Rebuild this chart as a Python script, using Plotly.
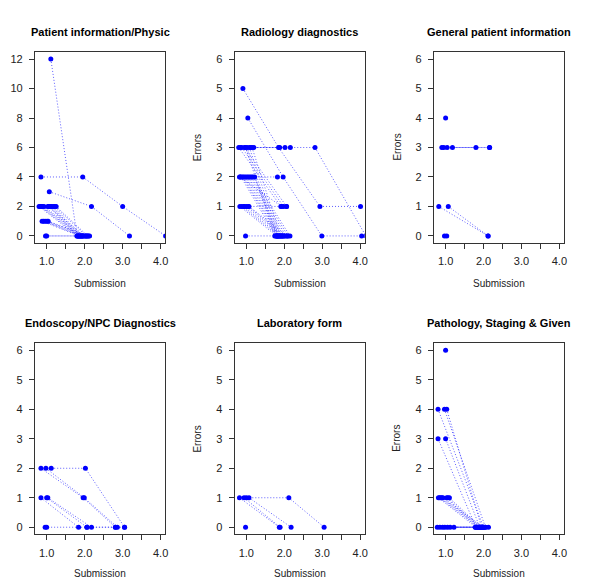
import plotly.graph_objects as go

# ---------------- data: one trajectory per subject (jittered submission, errors) -------------
titles = ["Patient information/Physic", "Radiology diagnostics", "General patient information",
          "Endoscopy/NPC Diagnostics", "Laboratory form", "Pathology, Staging & Given"]

p1_x = [[0.85, 1.95, 3.00, 4.13], [1.07, 2.18, 3.18], [1.11, 1.80],
        [0.80, 1.80], [0.83, 1.84], [0.86, 1.88], [0.89, 1.92], [0.93, 1.96], [1.03, 2.00],
        [1.06, 1.82], [1.09, 1.86], [1.13, 1.90], [1.17, 1.94], [1.21, 2.04], [1.25, 2.08],
        [0.88, 1.85], [0.92, 1.90], [0.96, 1.95], [1.01, 2.02], [1.04, 2.10],
        [0.97, 2.06], [1.00, 2.13]]
p1_y = [[4, 4, 2, 0], [3, 2, 0], [12, 0],
        [2, 0], [2, 0], [2, 0], [2, 0], [2, 0], [2, 0],
        [2, 0], [2, 0], [2, 0], [2, 0], [2, 0], [2, 0],
        [1, 0], [1, 0], [1, 0], [1, 0], [1, 0],
        [0, 0], [0, 0]]

p2_x = [[0.91, 1.85, 2.94, 4.01], [1.04, 1.97, 2.99, 4.04], [0.84, 2.16, 2.81, 4.15],
        [1.12, 1.88], [1.20, 2.02], [0.80, 1.91], [0.88, 1.98], [0.95, 2.06],
        [0.98, 1.75], [1.02, 1.80], [1.08, 1.85], [1.15, 1.90],
        [0.82, 1.93], [0.86, 1.78], [0.90, 1.82], [0.93, 1.86], [0.97, 1.90], [1.01, 1.95],
        [1.05, 2.00], [1.09, 2.05], [1.13, 2.10], [1.17, 2.15], [1.22, 1.82], [0.84, 1.82],
        [0.83, 1.80], [0.88, 1.85], [0.93, 1.90], [1.00, 1.95], [1.05, 2.00], [1.07, 2.08],
        [0.95, 2.06], [0.98, 1.95]]
p2_y = [[5, 3, 1, 1], [4, 2, 0, 0], [3, 3, 3, 0],
        [3, 3], [3, 3], [3, 1], [3, 1], [3, 1],
        [3, 0], [3, 0], [3, 0], [3, 0],
        [2, 1], [2, 0], [2, 0], [2, 0], [2, 0], [2, 0],
        [2, 0], [2, 0], [2, 0], [2, 0], [2, 0], [2, 2],
        [1, 0], [1, 0], [1, 0], [1, 0], [1, 0], [1, 0],
        [1, 1], [0, 0]]

p3_x = [[1.00], [0.90, 2.16], [0.95, 1.80], [1.18, 2.16], [1.04],
        [0.82, 2.12], [1.07, 2.12], [0.97], [1.03]]
p3_y = [[4], [3, 3], [3, 3], [3, 3], [3],
        [1, 0], [1, 0], [0], [0]]

p4_x = [[1.12, 2.02, 3.05], [0.85, 1.96, 2.81], [0.98, 1.99, 2.86],
        [0.85, 1.84], [1.00, 2.06], [1.03, 2.18, 3.05], [0.96, 2.06, 2.81], [1.00]]
p4_y = [[2, 2, 0], [2, 1, 0], [2, 1, 0],
        [1, 0], [1, 0], [1, 0, 0], [0, 0, 0], [0]]

p5_x = [[1.00, 2.12, 3.05], [0.82, 1.87], [0.94, 1.89], [1.07, 2.18], [0.98]]
p5_y = [[1, 1, 0], [1, 0], [1, 0], [1, 0], [0]]

p6_x = [[1.00], [0.80, 2.00], [0.97, 2.05], [1.03, 1.95], [1.00, 1.90], [0.80, 1.80],
        [0.81, 1.80], [0.84, 1.85], [0.87, 1.90], [0.90, 1.95], [0.93, 2.00],
        [1.03, 1.82], [1.06, 1.88], [1.10, 1.93],
        [0.78, 1.78], [0.85, 1.85], [0.92, 1.95], [0.98, 2.05], [1.05, 2.13],
        [1.12, 2.00], [1.22, 1.90]]
p6_y = [[6], [4, 0], [4, 0], [4, 0], [3, 0], [3, 0],
        [1, 0], [1, 0], [1, 0], [1, 0], [1, 0],
        [1, 0], [1, 0], [1, 0],
        [0, 0], [0, 0], [0, 0], [0, 0], [0, 0],
        [0, 0], [0, 0]]

x_ticks = [1, 1.5, 2, 2.5, 3, 3.5, 4]
x_tick_labels = ["1.0", "", "2.0", "", "3.0", "", "4.0"]
y_max = [12, 6, 6, 6, 6, 6]
y_step = [2, 1, 1, 1, 1, 1]
show_ylab = [False, True, True, False, True, True]

panels = [(p1_x, p1_y), (p2_x, p2_y), (p3_x, p3_y), (p4_x, p4_y), (p5_x, p5_y), (p6_x, p6_y)]

# ---------------- layout geometry (page pixels; page body has an 8px margin) ----------------
W, H = 600, 583
OFF = 8
col_px = [(35, 166), (235.7, 366.5), (436, 566.7)]
row_px = [(52, 243), (343.3, 534.3)]


def px(v):
    return (v - OFF) / W


def py(v):
    return 1 - (v - OFF) / H


fig = go.Figure()
annotations = []
font_fam = "Liberation Sans, Arial"
for i, (xs, ys) in enumerate(panels):
    r, c = divmod(i, 3)
    ax = "" if i == 0 else str(i + 1)
    fx, fy = [], []
    for sx, sy in zip(xs, ys):
        fx += list(sx) + [None]
        fy += list(sy) + [None]
    fig.add_trace(go.Scatter(
        x=fx, y=fy, mode="lines+markers", xaxis="x" + ax, yaxis="y" + ax,
        line=dict(color="rgba(40,40,255,0.75)", width=1, dash="1px,2px"),
        marker=dict(color="#0000FF", size=5, line=dict(width=0)),
        connectgaps=False, showlegend=False, hoverinfo="x+y"))
    x0, x1 = col_px[c]
    y0, y1 = row_px[r]
    ym = y_max[i]
    pad = ym * 0.04
    axis_common = dict(showline=True, mirror=True, linecolor="#333333", linewidth=1,
                       ticks="outside", ticklen=5, tickcolor="#333333", showgrid=False,
                       zeroline=False, tickfont=dict(family=font_fam, size=11, color="#222222"))
    fig.layout["xaxis" + ax] = dict(domain=[px(x0), px(x1)], range=[0.69, 4.12],
                                    tickvals=x_ticks, ticktext=x_tick_labels,
                                    anchor="y" + ax, ticklabelstandoff=3, **axis_common)
    fig.layout["yaxis" + ax] = dict(domain=[py(y1), py(y0)], range=[-pad, ym + pad],
                                    dtick=y_step[i], tick0=0, anchor="x" + ax,
                                    ticklabelstandoff=4, **axis_common)
    cx = (x0 + x1) / 2
    ty = 32 if r == 0 else 322.7
    sy_ = 283 if r == 0 else 573
    annotations.append(dict(text="<b>" + titles[i] + "</b>", x=px(cx), y=py(ty),
                            xref="paper", yref="paper", showarrow=False,
                            xanchor="center", yanchor="middle",
                            font=dict(family=font_fam, size=11, color="#000000")))
    annotations.append(dict(text="Submission", x=px(cx), y=py(sy_),
                            xref="paper", yref="paper", showarrow=False,
                            xanchor="center", yanchor="middle",
                            font=dict(family=font_fam, size=10, color="#222222")))
    if show_ylab[i]:
        annotations.append(dict(text="Errors", x=px(x0 - 37), y=py((y0 + y1) / 2),
                                xref="paper", yref="paper", showarrow=False, textangle=-90,
                                xanchor="center", yanchor="middle",
                                font=dict(family=font_fam, size=10, color="#222222")))

fig.update_layout(width=W, height=H, margin=dict(l=0, r=0, t=0, b=0),
                  paper_bgcolor="white", plot_bgcolor="white", annotations=annotations)
fig.write_html("out.html")
